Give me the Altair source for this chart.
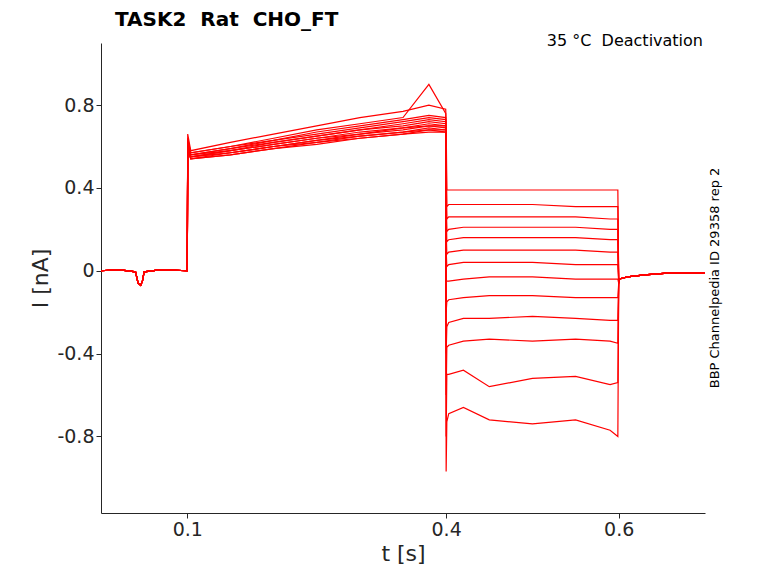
import altair as alt
import pandas as pd

# baseline segment (shared by all sweeps)
t_base = [0.0, 0.02, 0.04, 0.043, 0.046, 0.048, 0.05, 0.07, 0.0995]
i_base = [0.0, 0.005, -0.005, -0.06, -0.07, -0.05, -0.005, 0.005, 0.0]

# holding step 0.1 -> 0.4 s
t_hold = [0.1, 0.1005, 0.104, 0.15, 0.2, 0.25, 0.3, 0.35, 0.38, 0.3995]
hold = [
    [0.0, 0.66, 0.58, 0.62, 0.66, 0.70, 0.74, 0.77, 0.80, 0.78],
    [0.0, 0.64, 0.57, 0.60, 0.64, 0.68, 0.71, 0.74, 0.90, 0.76],
    [0.0, 0.63, 0.57, 0.60, 0.63, 0.67, 0.70, 0.73, 0.75, 0.74],
    [0.0, 0.62, 0.56, 0.59, 0.63, 0.66, 0.69, 0.72, 0.74, 0.73],
    [0.0, 0.62, 0.56, 0.59, 0.62, 0.65, 0.68, 0.71, 0.73, 0.72],
    [0.0, 0.61, 0.56, 0.58, 0.62, 0.65, 0.68, 0.70, 0.72, 0.71],
    [0.0, 0.61, 0.55, 0.58, 0.61, 0.64, 0.67, 0.69, 0.71, 0.70],
    [0.0, 0.60, 0.55, 0.58, 0.61, 0.64, 0.66, 0.69, 0.70, 0.70],
    [0.0, 0.60, 0.55, 0.57, 0.60, 0.63, 0.66, 0.68, 0.70, 0.69],
    [0.0, 0.60, 0.55, 0.57, 0.60, 0.63, 0.65, 0.67, 0.69, 0.68],
    [0.0, 0.59, 0.54, 0.57, 0.60, 0.62, 0.65, 0.67, 0.68, 0.68],
    [0.0, 0.59, 0.54, 0.56, 0.59, 0.62, 0.64, 0.66, 0.68, 0.67],
    [0.0, 0.58, 0.54, 0.56, 0.59, 0.61, 0.64, 0.66, 0.67, 0.67],
]

# test step 0.4 -> 0.6 s
t_test = [0.4, 0.4008, 0.403, 0.42, 0.45, 0.5, 0.55, 0.59, 0.599]
test = [
    [0.72, 0.39, 0.39, 0.39, 0.39, 0.39, 0.39, 0.39, 0.39],
    [0.60, 0.31, 0.32, 0.32, 0.32, 0.32, 0.31, 0.31, 0.31],
    [0.50, 0.25, 0.26, 0.26, 0.26, 0.26, 0.26, 0.25, 0.25],
    [0.40, 0.19, 0.20, 0.21, 0.21, 0.21, 0.21, 0.20, 0.20],
    [0.30, 0.14, 0.15, 0.16, 0.16, 0.16, 0.16, 0.15, 0.15],
    [0.20, 0.08, 0.09, 0.10, 0.10, 0.10, 0.10, 0.09, 0.09],
    [0.10, 0.02, 0.03, 0.04, 0.04, 0.04, 0.03, 0.03, 0.03],
    [-0.05, -0.05, -0.05, -0.04, -0.03, -0.03, -0.04, -0.04, -0.04],
    [-0.20, -0.15, -0.14, -0.13, -0.12, -0.12, -0.13, -0.13, -0.13],
    [-0.40, -0.27, -0.25, -0.23, -0.23, -0.22, -0.23, -0.24, -0.24],
    [-0.60, -0.37, -0.36, -0.34, -0.33, -0.34, -0.33, -0.34, -0.35],
    [-0.80, -0.50, -0.50, -0.48, -0.56, -0.52, -0.51, -0.55, -0.54],
    [-0.97, -0.73, -0.69, -0.66, -0.72, -0.74, -0.72, -0.77, -0.80],
]

# tail after 0.6 s (shared)
t_tail = [0.6, 0.601, 0.61, 0.63, 0.66, 0.7]
i_tail = [-0.06, -0.04, -0.03, -0.02, -0.01, -0.01]

rows = []
for s in range(len(hold)):
    ts = t_base + t_hold + t_test + t_tail
    vs = i_base + hold[s] + test[s] + i_tail
    for k, (t, v) in enumerate(zip(ts, vs)):
        rows.append({"sweep": s, "k": k, "t": t, "i": v})
df = pd.DataFrame(rows)

lines = (
    alt.Chart(df)
    .mark_line(color="#ff0000", strokeWidth=1.2, clip=True)
    .encode(
        x=alt.X("t:Q", scale=alt.Scale(domain=[0, 0.7], nice=False),
                axis=alt.Axis(values=[0.1, 0.4, 0.6], title="t [s]", format=".1f")),
        y=alt.Y("i:Q", scale=alt.Scale(domain=[-1.17, 1.1], nice=False),
                axis=alt.Axis(values=[-0.8, -0.4, 0, 0.4, 0.8], title="I [nA]",
                              labelExpr="datum.value == 0 ? '0' : (datum.value < 0 ? '-' : '') + format(abs(datum.value), '.1f')")),
        detail="sweep:N",
        order="k:Q",
    )
)

title = alt.Chart(pd.DataFrame({"s": ["TASK2\u00a0\u00a0Rat\u00a0\u00a0CHO_FT"]})).mark_text(
    align="left", fontSize=20, fontWeight="bold", font="DejaVu Sans"
).encode(x=alt.value(14), y=alt.value(-23), text="s:N")

cond = alt.Chart(pd.DataFrame({"s": ["35 °C\u00a0\u00a0Deactivation"]})).mark_text(
    align="right", fontSize=16, font="DejaVu Sans"
).encode(x=alt.value(602), y=alt.value(-2), text="s:N")

side = alt.Chart(pd.DataFrame({"s": ["BBP Channelpedia ID 29358 rep 2"]})).mark_text(
    angle=270, fontSize=13, font="DejaVu Sans"
).encode(x=alt.value(614), y=alt.value(235), text="s:N")

chart = (
    alt.layer(lines, title, cond, side)
    .properties(width=604, height=470, autosize="none",
                padding={"left": 93, "top": 35, "right": 65, "bottom": 62})
    .configure_view(stroke=None)
    .configure_axis(
        grid=False, domainColor="#262626", tickColor="#262626", tickSize=5,
        labelFont="DejaVu Sans", titleFont="DejaVu Sans", labelFontSize=19,
        titleFontSize=22, titleFontWeight="normal", labelColor="#262626",
        titleColor="#262626",
    )
)

chart.save("out.html", embed_options={"renderer": "svg", "actions": False})
